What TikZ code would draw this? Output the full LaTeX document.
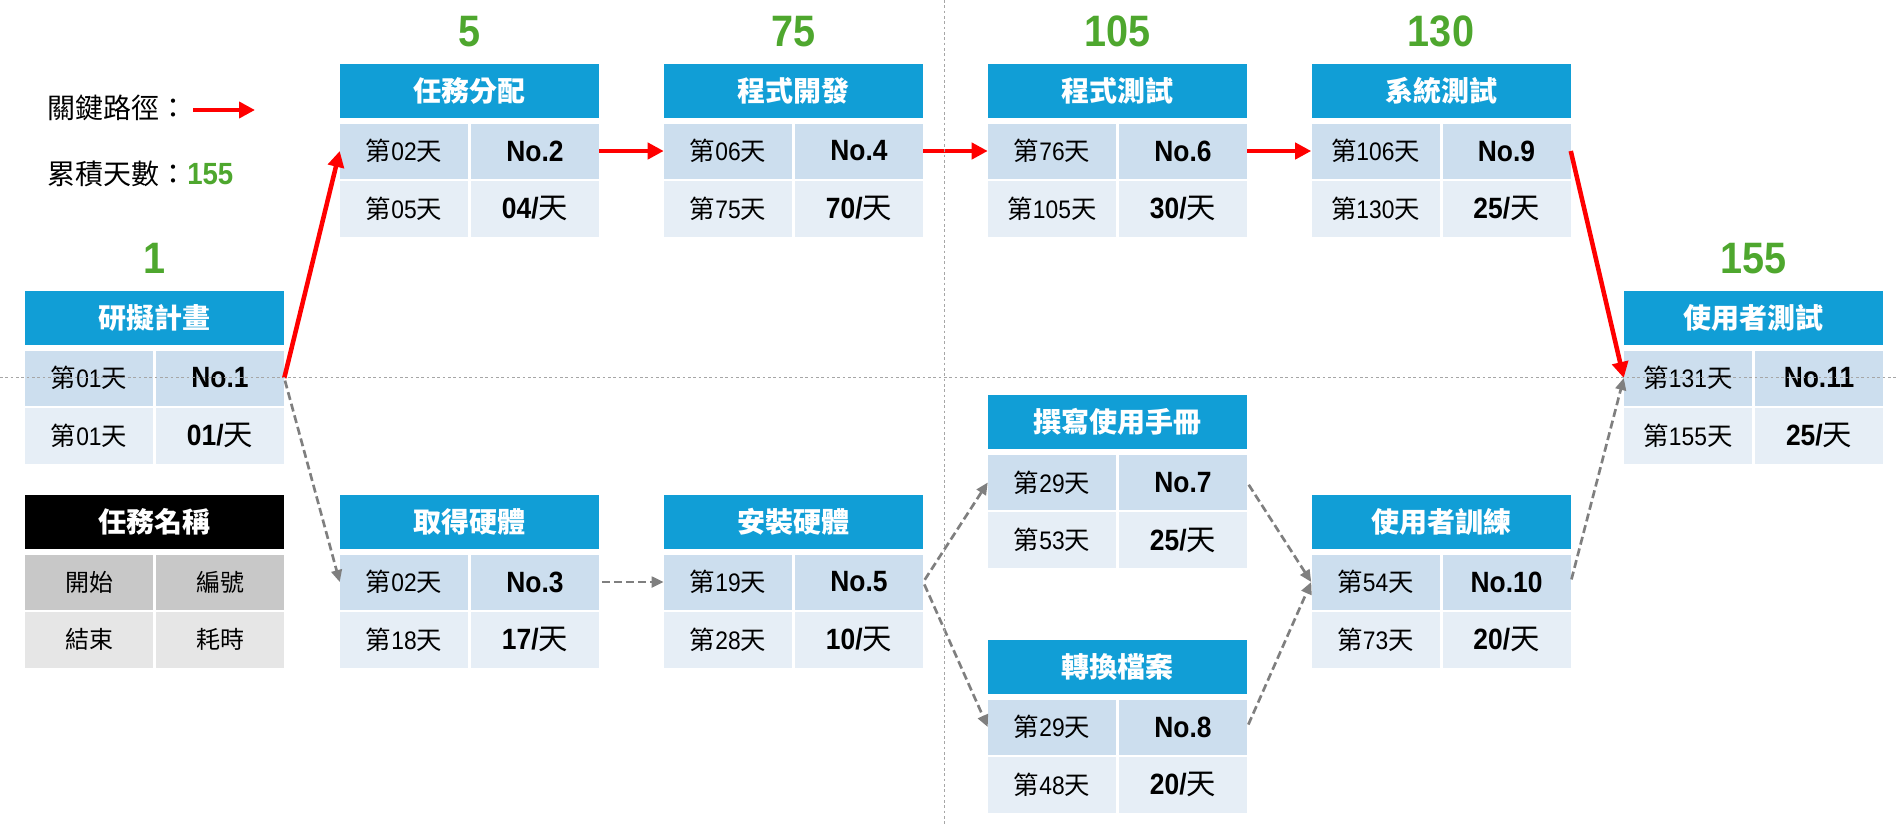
\documentclass[tikz,border=0pt]{standalone}
\usepackage{fontspec}
\setmainfont{Liberation Sans}[FakeStretch=0.9]
\newfontfamily\cjk{Noto Sans CJK TC}
\usepackage{tikz}
\usetikzlibrary{arrows.meta}

\definecolor{hdrblue}{RGB}{17,158,214}
\definecolor{rowa}{RGB}{204,222,238}
\definecolor{rowb}{RGB}{230,238,246}
\definecolor{keya}{RGB}{200,200,200}
\definecolor{keyb}{RGB}{230,230,230}
\definecolor{daygreen}{RGB}{78,167,46}
\definecolor{flowgray}{RGB}{127,127,127}

\tikzset{
  hdr/.style={fill=hdrblue, text=white, inner sep=0pt, minimum width=194.25pt, minimum height=40.5pt, font={\cjk\bfseries\fontsize{21}{23}\selectfont}},
  cella/.style={fill=rowa, inner sep=0pt, minimum width=96pt, minimum height=41.25pt, font=\fontsize{19}{22}\selectfont},
  cellb/.style={cella, fill=rowb, minimum height=42pt},
  num/.style={font=\bfseries\fontsize{22}{24}\selectfont},
  keycell/.style={cella, font={\cjk\fontsize{18}{21}\selectfont}},
  daynum/.style={text=daygreen, font=\bfseries\fontsize{33}{36}\selectfont},
  keytext/.style={anchor=west, inner sep=0pt, font={\cjk\fontsize{21}{24}\selectfont}},
  crit/.style={red, line width=3.4pt, -{Triangle[length=12pt,width=12pt]}},
  flow/.style={flowgray, line width=2pt, dash pattern=on 6pt off 3pt, shorten <=2pt, -{Triangle[length=9pt,width=8pt]}},
  guide/.style={black!35, line width=0.75pt, dash pattern=on 2pt off 2pt}
}

\newcommand{\dday}[1]{{\cjk 第}#1{\cjk 天}}
\newcommand{\taskbox}[8]{%
  \node[hdr] (#1) at (#2+129.5,#3+27) {#4};
  \node[cella] (#1s) at (#2+64,#3+87.5) {\dday{#5}};
  \node[cella,num] (#1n) at (#2+195,#3+87.5) {No.#6};
  \node[cellb] (#1e) at (#2+64,#3+145) {\dday{#7}};
  \node[cellb,num] (#1d) at (#2+195,#3+145) {#8/{\cjk\mdseries 天}};
}

\begin{document}
\begin{tikzpicture}[x=0.75pt, y=-0.75pt]
    \useasboundingbox (0,0) rectangle (1896,825);

    \node[keytext] (critkey) at (47,108) {關鍵路徑：};
    \node[keytext] (totalkey) at (47,174) {累積天數：{\rmfamily\bfseries\fontsize{23}{24}\selectfont\color{daygreen}155}};
    \coordinate (k1) at (193,110);
    \coordinate (k2) at (255,110);
    \draw[crit] (k1) -- (k2);

    \taskbox{t1}{25}{290.5}{研擬計畫}{01}{1}{01}{01}
    \taskbox{t2}{340}{63.5}{任務分配}{02}{2}{05}{04}
    \taskbox{t3}{340}{494.5}{取得硬體}{02}{3}{18}{17}
    \taskbox{t4}{664}{63.5}{程式開發}{06}{4}{75}{70}
    \taskbox{t5}{664}{494.5}{安裝硬體}{19}{5}{28}{10}
    \taskbox{t6}{988}{63.5}{程式測試}{76}{6}{105}{30}
    \taskbox{t7}{988}{395}{撰寫使用手冊}{29}{7}{53}{25}
    \taskbox{t8}{988}{639.5}{轉換檔案}{29}{8}{48}{20}
    \taskbox{t9}{1311.5}{63.5}{系統測試}{106}{9}{130}{25}
    \taskbox{t10}{1311.5}{494.5}{使用者訓練}{54}{10}{73}{20}
    \taskbox{t11}{1624}{290.5}{使用者測試}{131}{11}{155}{25}

    \node[hdr, fill=black] (key) at (154.5,521.5) {任務名稱};
    \node[keycell, fill=keya] (keys) at (89,582) {開始};
    \node[keycell, fill=keya] (keyn) at (220,582) {編號};
    \node[keycell, fill=keyb, minimum height=42pt] (keye) at (89,639.5) {結束};
    \node[keycell, fill=keyb, minimum height=42pt] (keyd) at (220,639.5) {耗時};

    \node[daynum] (d1) at (154.5,258.5) {1};
    \node[daynum] (d2) at (469.5,31.5) {5};
    \node[daynum] (d4) at (793.5,31.5) {75};
    \node[daynum] (d6) at (1117.5,31.5) {105};
    \node[daynum] (d9) at (1441,31.5) {130};
    \node[daynum] (d11) at (1753.5,258.5) {155};

    \draw[crit] (t1n.east) -- (t2s.west);
    \draw[crit] (t2n.east) -- (t4s.west);
    \draw[crit] (t4n.east) -- (t6s.west);
    \draw[crit] (t6n.east) -- (t9s.west);
    \draw[crit] (t9n.east) -- (t11s.west);

    \draw[flow] (t1n.east) -- (t3s.west);
    \draw[flow] (t3n.east) -- (t5s.west);
    \draw[flow] (t5n.east) -- (t7s.west);
    \draw[flow] (t5n.east) -- (t8s.west);
    \draw[flow] (t7n.east) -- (t10s.west);
    \draw[flow] (t8n.east) -- (t10s.west);
    \draw[flow] (t10n.east) -- (t11s.west);

    \draw[guide] (0,377.5) -- (1896,377.5);
    \draw[guide] (944.5,0) -- (944.5,825);
\end{tikzpicture}
\end{document}
